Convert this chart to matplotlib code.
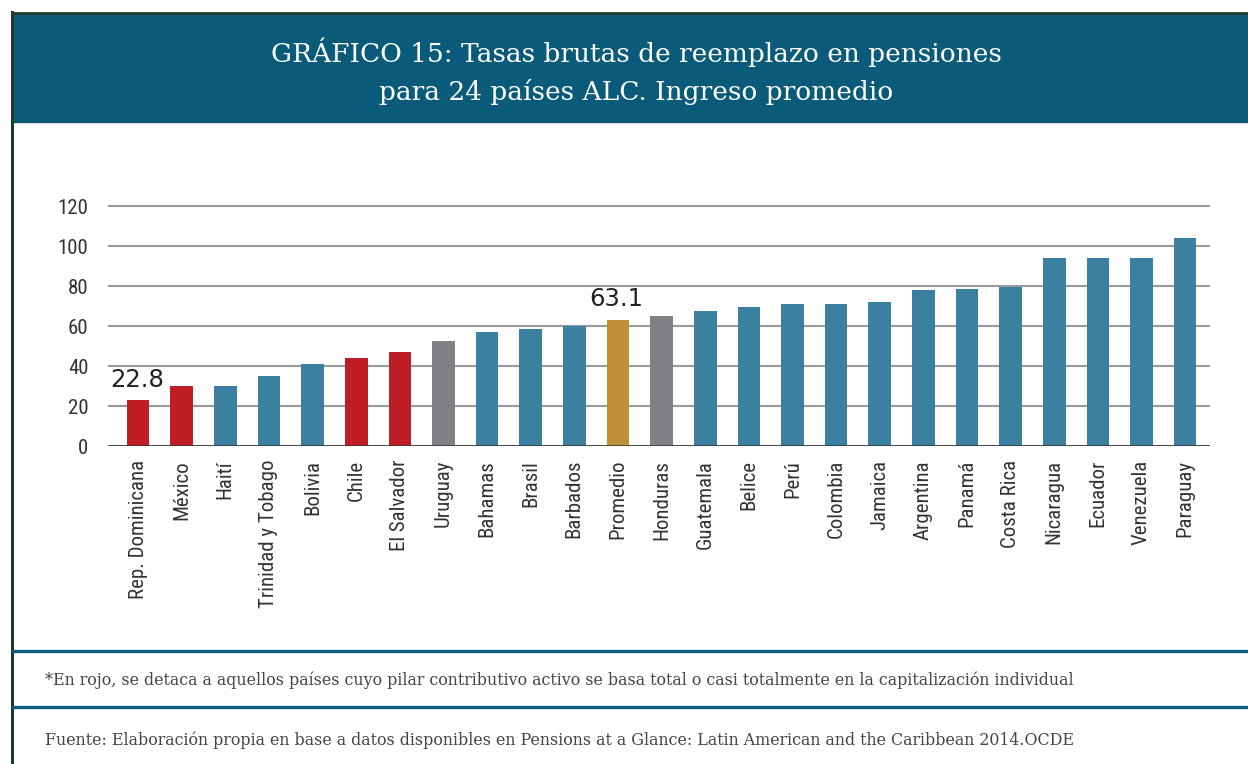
import matplotlib.pyplot as plt
from matplotlib import font_manager
from matplotlib.lines import Line2D
from matplotlib.patches import Rectangle

# data
paises = ['Rep. Dominicana', 'México', 'Haití', 'Trinidad y Tobago', 'Bolivia',
          'Chile', 'El Salvador', 'Uruguay', 'Bahamas', 'Brasil', 'Barbados',
          'Promedio', 'Honduras', 'Guatemala', 'Belice', 'Perú', 'Colombia',
          'Jamaica', 'Argentina', 'Panamá', 'Costa Rica', 'Nicaragua',
          'Ecuador', 'Venezuela', 'Paraguay']
tasas = [22.8, 29.8, 29.8, 34.8, 40.8, 43.8, 46.8, 52.3, 56.8, 58.3, 60.0,
         63.1, 64.8, 67.3, 69.3, 70.8, 70.8, 71.8, 77.8, 78.3, 79.3, 93.8,
         93.8, 93.8, 103.8]
grupo = ['rojo', 'rojo', 'azul', 'azul', 'azul', 'rojo', 'rojo', 'gris',
         'azul', 'azul', 'azul', 'prom', 'gris', 'azul', 'azul', 'azul',
         'azul', 'azul', 'azul', 'azul', 'azul', 'azul', 'azul', 'azul', 'azul']
etiquetas = {'Rep. Dominicana': '22.8', 'Promedio': '63.1'}

colores = {'rojo': '#c01e26', 'azul': '#3b80a1', 'gris': '#808186', 'prom': '#bf9035'}
azul_oscuro = '#0a5b79'
borde = '#1f3b2b'

# pick a narrow sans for the axis labels if one is installed
nombres = {f.name for f in font_manager.fontManager.ttflist}
narrow = 'DejaVu Sans'
for cand in ['Liberation Sans Narrow', 'DejaVu Sans Condensed', 'Roboto Condensed',
             'Open Sans Condensed']:
    if cand in nombres:
        narrow = cand
        break
tam_ticks = 15 if narrow != 'DejaVu Sans' else 13

W, H = 1248, 764
fig = plt.figure(figsize=(W / 100, H / 100), dpi=100)

# header band
fig.patches.append(Rectangle((12 / W, 1 - 122 / H), 1 - 12 / W, 108 / H,
                             transform=fig.transFigure, color=azul_oscuro, zorder=0))
fig.lines.append(Line2D([12 / W, 1], [1 - 13 / H] * 2, transform=fig.transFigure,
                        color=borde, lw=2))
fig.lines.append(Line2D([12 / W] * 2, [0, 1 - 12 / H], transform=fig.transFigure,
                        color=borde, lw=2.2))
for yp in (651, 707):
    fig.lines.append(Line2D([13 / W, 1], [1 - yp / H] * 2, transform=fig.transFigure,
                            color='#0f5f80', lw=2.4))

fig.text(636 / W, 1 - 52 / H, 'GRÁFICO 15: Tasas brutas de reemplazo en pensiones',
         ha='center', va='center', color='white', fontsize=19, family='DejaVu Serif')
fig.text(636 / W, 1 - 92 / H, 'para 24 países ALC. Ingreso promedio',
         ha='center', va='center', color='white', fontsize=19, family='DejaVu Serif')

fig.text(45 / W, 1 - 680 / H,
         '*En rojo, se detaca a aquellos países cuyo pilar contributivo activo se basa '
         'total o casi totalmente en la capitalización individual',
         ha='left', va='center', color='#444444', fontsize=11.45, family='DejaVu Serif')
fig.text(45 / W, 1 - 740 / H,
         'Fuente: Elaboración propia en base a datos disponibles en Pensions at a Glance: '
         'Latin American and the Caribbean 2014.OCDE',
         ha='left', va='center', color='#444444', fontsize=11.45, family='DejaVu Serif')

# plot area
left, right = 108, 1210
bottom, top = 446, 204
ax = fig.add_axes([left / W, 1 - bottom / H, (right - left) / W, (bottom - top) / H])

x = list(range(len(paises)))
ax.bar(x, tasas, width=0.52, color=[colores[g] for g in grupo], zorder=3)

for i, p in enumerate(paises):
    if p in etiquetas:
        ax.annotate(etiquetas[p], (i, tasas[i]), xytext=(-1, 6), textcoords='offset points',
                    ha='center', va='bottom', fontsize=17.5, color='#222222',
                    family='DejaVu Sans', fontweight='medium')

ax.set_xlim(-0.69, 24.57)
ax.set_ylim(0, 121)
ax.set_yticks(range(0, 121, 20))
ax.yaxis.grid(True, color='#9a9a9a', lw=1.5, zorder=0)
ax.axhline(0, color='#333333', lw=1.8, zorder=4)
for s in ax.spines.values():
    s.set_visible(False)
ax.set_xticks(x)
ax.set_xticklabels(paises, rotation=90, va='top', ha='center')
ax.tick_params(length=0, pad=10, labelsize=tam_ticks, labelcolor='#333333')
for lab in ax.get_xticklabels() + ax.get_yticklabels():
    lab.set_family(narrow)
ax.tick_params(axis='y', pad=14)

fig.savefig('out.png', dpi=100)
